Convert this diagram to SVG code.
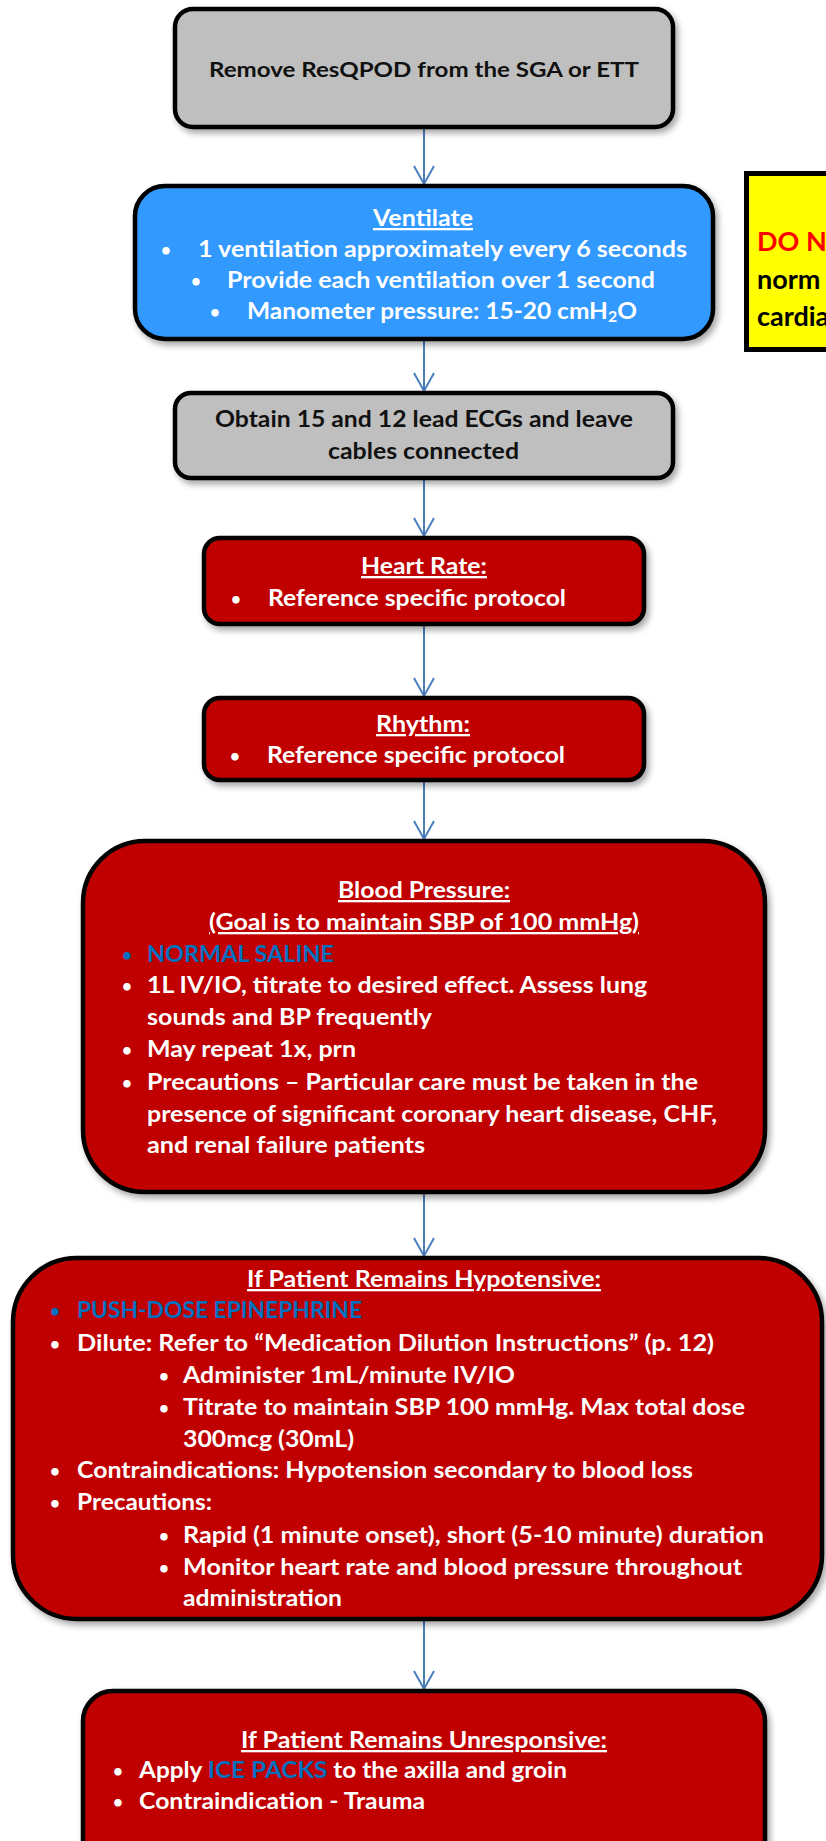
<svg xmlns="http://www.w3.org/2000/svg" width="826" height="1841" viewBox="0 0 826 1841">
  <style>
    text { font-family: Lato, "Liberation Sans", sans-serif; font-weight: 700; }
    .box { stroke: #000; stroke-width: 4.5; filter: url(#shadow); }
    .gray { fill: #bfbfbf; }
    .blue { fill: #3399ff; }
    .red { fill: #c00000; }
    .dark { fill: #111; font-size: 23px; }
    .light { fill: #fff; font-size: 23px; }
    .hl { fill: #0070c0; }
    .u { text-decoration: underline; }
    .bul { text-anchor: middle; font-size: 17px; }
    .note { font-size: 27px; }
    .conn { stroke: #4a7ebb; stroke-width: 2; fill: none; marker-end: url(#open-arrow); }
  </style>
  <defs>
    <filter id="shadow" x="-10%" y="-10%" width="125%" height="130%">
      <feDropShadow dx="3" dy="4" stdDeviation="3" flood-color="#000" flood-opacity="0.35"/>
    </filter>
    <marker id="open-arrow" markerUnits="userSpaceOnUse" viewBox="0 0 20 22" refX="18" refY="11" markerWidth="20" markerHeight="22" orient="auto" overflow="visible">
      <path d="M0,1 L18,11 L0,21" fill="none" stroke="#4a7ebb" stroke-width="2"/>
    </marker>
  </defs>

  <rect width="826" height="1841" fill="#fff"/>

  <!-- connectors -->
  <g id="connectors">
    <line class="conn" x1="424" y1="128" x2="424" y2="184"/>
    <line class="conn" x1="424" y1="340" x2="424" y2="391"/>
    <line class="conn" x1="424" y1="478" x2="424" y2="536"/>
    <line class="conn" x1="424" y1="624" x2="424" y2="696"/>
    <line class="conn" x1="424" y1="780" x2="424" y2="839"/>
    <line class="conn" x1="424" y1="1192" x2="424" y2="1256"/>
    <line class="conn" x1="424" y1="1619" x2="424" y2="1689"/>
  </g>

  <!-- step: remove ResQPOD -->
  <g id="n-remove">
    <rect class="box gray" x="175" y="9" width="498" height="118" rx="18"/>
    <text class="dark" x="209" y="77" textLength="430" lengthAdjust="spacingAndGlyphs" style="font-size:21.5px">Remove ResQPOD from the SGA or ETT</text>
  </g>

  <!-- step: ventilate -->
  <g id="n-ventilate">
    <rect class="box blue" x="135" y="186" width="578" height="153" rx="30"/>
    <text class="light u" x="373" y="226" textLength="100" lengthAdjust="spacingAndGlyphs">Ventilate</text>
    <text class="light bul" x="166" y="256">•</text>
    <text class="light" x="198" y="257" textLength="489" lengthAdjust="spacingAndGlyphs">1 ventilation approximately every 6 seconds</text>
    <text class="light bul" x="196" y="287">•</text>
    <text class="light" x="227" y="288" textLength="428" lengthAdjust="spacingAndGlyphs">Provide each ventilation over 1 second</text>
    <text class="light bul" x="215" y="318">•</text>
    <text class="light" x="247" y="319" textLength="390" lengthAdjust="spacingAndGlyphs">Manometer pressure: 15-20 cmH<tspan font-size="15" dy="3">2</tspan><tspan dy="-3">O</tspan></text>
  </g>

  <!-- note beside ventilate -->
  <g id="n-note">
    <rect x="746.5" y="173.5" width="100" height="176" fill="#ffff00" stroke="#000" stroke-width="5"/>
    <text class="note" x="757" y="251" fill="#ff0000">DO N</text>
    <text class="note" x="757" y="289" fill="#000">norm</text>
    <text class="note" x="757" y="326" fill="#000">cardia</text>
  </g>

  <!-- step: ECGs -->
  <g id="n-ecg">
    <rect class="box gray" x="175" y="393" width="498" height="85" rx="16"/>
    <text class="dark" x="215" y="427" textLength="418" lengthAdjust="spacingAndGlyphs">Obtain 15 and 12 lead ECGs and leave</text>
    <text class="dark" x="328" y="459" textLength="191" lengthAdjust="spacingAndGlyphs">cables connected</text>
  </g>

  <!-- step: heart rate -->
  <g id="n-hr">
    <rect class="box red" x="204" y="538" width="440" height="86" rx="16"/>
    <text class="light u" x="361" y="574" textLength="126" lengthAdjust="spacingAndGlyphs">Heart Rate:</text>
    <text class="light bul" x="236" y="605">•</text>
    <text class="light" x="268" y="606" textLength="298" lengthAdjust="spacingAndGlyphs">Reference specific protocol</text>
  </g>

  <!-- step: rhythm -->
  <g id="n-rhythm">
    <rect class="box red" x="204" y="698" width="440" height="82" rx="16"/>
    <text class="light u" x="376" y="732" textLength="94" lengthAdjust="spacingAndGlyphs">Rhythm:</text>
    <text class="light bul" x="235" y="762">•</text>
    <text class="light" x="267" y="763" textLength="298" lengthAdjust="spacingAndGlyphs">Reference specific protocol</text>
  </g>

  <!-- step: blood pressure -->
  <g id="n-bp">
    <rect class="box red" x="83" y="841" width="682" height="351" rx="62"/>
    <text class="light u" x="338" y="898" textLength="172" lengthAdjust="spacingAndGlyphs">Blood Pressure:</text>
    <text class="light u" x="209" y="930" textLength="430" lengthAdjust="spacingAndGlyphs">(Goal is to maintain SBP of 100 mmHg)</text>
    <text class="light bul hl" x="127" y="961">•</text>
    <text class="light hl" x="147" y="962" textLength="187" lengthAdjust="spacingAndGlyphs">NORMAL SALINE</text>
    <text class="light bul" x="127" y="992">•</text>
    <text class="light" x="147" y="993" textLength="500" lengthAdjust="spacingAndGlyphs">1L IV/IO, titrate to desired effect. Assess lung</text>
    <text class="light" x="147" y="1025" textLength="285" lengthAdjust="spacingAndGlyphs">sounds and BP frequently</text>
    <text class="light bul" x="127" y="1056">•</text>
    <text class="light" x="147" y="1057" textLength="209" lengthAdjust="spacingAndGlyphs">May repeat 1x, prn</text>
    <text class="light bul" x="127" y="1089">•</text>
    <text class="light" x="147" y="1090" textLength="551" lengthAdjust="spacingAndGlyphs">Precautions – Particular care must be taken in the</text>
    <text class="light" x="147" y="1122" textLength="570" lengthAdjust="spacingAndGlyphs">presence of significant coronary heart disease, CHF,</text>
    <text class="light" x="147" y="1153" textLength="278" lengthAdjust="spacingAndGlyphs">and renal failure patients</text>
  </g>

  <!-- step: still hypotensive -->
  <g id="n-hypotensive">
    <rect class="box red" x="13" y="1258" width="809" height="361" rx="64"/>
    <text class="light u" x="247" y="1287" textLength="354" lengthAdjust="spacingAndGlyphs">If Patient Remains Hypotensive:</text>
    <text class="light bul hl" x="55" y="1317">•</text>
    <text class="light hl" x="77" y="1318" textLength="285" lengthAdjust="spacingAndGlyphs">PUSH-DOSE EPINEPHRINE</text>
    <text class="light bul" x="55" y="1350">•</text>
    <text class="light" x="77" y="1351" textLength="637" lengthAdjust="spacingAndGlyphs">Dilute: Refer to “Medication Dilution Instructions” (p. 12)</text>
    <text class="light bul" x="164" y="1382">•</text>
    <text class="light" x="183" y="1383" textLength="332" lengthAdjust="spacingAndGlyphs">Administer 1mL/minute IV/IO</text>
    <text class="light bul" x="164" y="1414">•</text>
    <text class="light" x="183" y="1415" textLength="562" lengthAdjust="spacingAndGlyphs">Titrate to maintain SBP 100 mmHg. Max total dose</text>
    <text class="light" x="183" y="1447" textLength="171" lengthAdjust="spacingAndGlyphs">300mcg (30mL)</text>
    <text class="light bul" x="55" y="1477">•</text>
    <text class="light" x="77" y="1478" textLength="616" lengthAdjust="spacingAndGlyphs">Contraindications: Hypotension secondary to blood loss</text>
    <text class="light bul" x="55" y="1509">•</text>
    <text class="light" x="77" y="1510" textLength="135" lengthAdjust="spacingAndGlyphs">Precautions:</text>
    <text class="light bul" x="164" y="1542">•</text>
    <text class="light" x="183" y="1543" textLength="581" lengthAdjust="spacingAndGlyphs">Rapid (1 minute onset), short (5-10 minute) duration</text>
    <text class="light bul" x="164" y="1574">•</text>
    <text class="light" x="183" y="1575" textLength="559" lengthAdjust="spacingAndGlyphs">Monitor heart rate and blood pressure throughout</text>
    <text class="light" x="183" y="1606" textLength="159" lengthAdjust="spacingAndGlyphs">administration</text>
  </g>

  <!-- step: still unresponsive -->
  <g id="n-unresponsive">
    <rect class="box red" x="83" y="1691" width="682" height="190" rx="30"/>
    <text class="light u" x="241" y="1748" textLength="366" lengthAdjust="spacingAndGlyphs">If Patient Remains Unresponsive:</text>
    <text class="light bul" x="118" y="1777">•</text>
    <text class="light" x="139" y="1778" textLength="428" lengthAdjust="spacingAndGlyphs">Apply <tspan class="hl">ICE PACKS</tspan> to the axilla and groin</text>
    <text class="light bul" x="118" y="1808">•</text>
    <text class="light" x="139" y="1809" textLength="286" lengthAdjust="spacingAndGlyphs">Contraindication - Trauma</text>
  </g>
</svg>
